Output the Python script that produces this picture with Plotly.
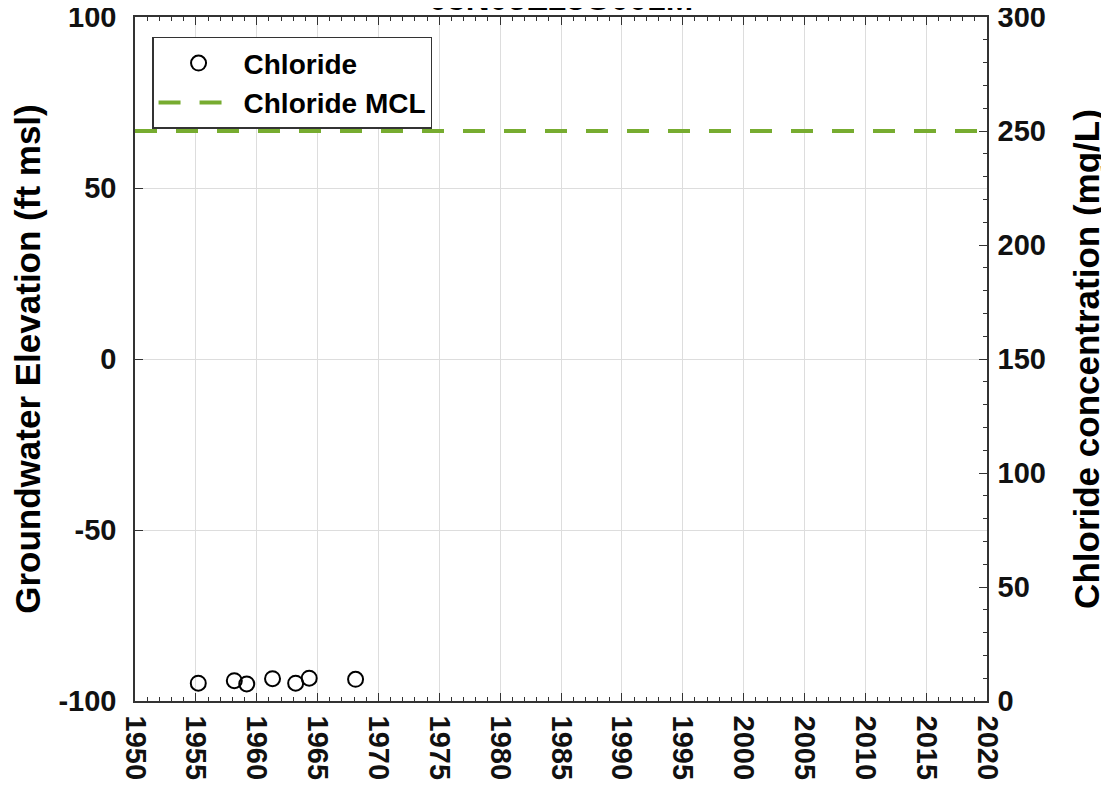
import plotly.graph_objects as go

title_text = "03N05E28G001M"
chloride_dates = ["1955-03-15", "1958-02-28", "1959-03-08", "1961-04-20",
                  "1963-03-15", "1964-04-25", "1968-02-15"]
chloride_values = [7.8, 8.9, 7.5, 9.8, 7.8, 10.0, 9.5]
mcl_dates = ["1950-01-01", "2020-01-01"]
mcl_values = [250, 250]
axis_dates = ["1950-01-01", "2020-01-01"]
elev_range = [-100, 100]
elev_ticks = [-100, -50, 0, 50, 100]
elev_ticklabels = ["-100", "-50", "0", "50", "100"]
chl_range = [0, 300]

FONT = "Liberation Sans, Arial, sans-serif"

fig = go.Figure()
# invisible trace to activate the left elevation axis
fig.add_trace(go.Scatter(
    x=axis_dates, y=elev_range, yaxis="y", mode="markers",
    marker=dict(opacity=0), showlegend=False, hoverinfo="skip",
))
fig.add_trace(go.Scatter(
    x=chloride_dates, y=chloride_values, yaxis="y2", mode="markers",
    name="Chloride",
    marker=dict(symbol="circle-open", size=15, color="black", line=dict(width=2, color="black")),
))
fig.add_trace(go.Scatter(
    x=mcl_dates, y=mcl_values, yaxis="y2", mode="lines",
    name="Chloride MCL",
    line=dict(color="#77AC30", width=4, dash="22px,19px"),
))

tickfont = dict(family=FONT, size=29, color="#111111", weight="bold")
titlefont = dict(family=FONT, size=35, color="black", weight="bold")
fig.update_layout(
    width=1109, height=788,
    margin=dict(l=127, r=130, t=9, b=95, autoexpand=False),
    paper_bgcolor="white", plot_bgcolor="white",
    font=dict(family=FONT, color="black"),
    showlegend=True,
    legend=dict(x=0.02, y=0.971, xanchor="left", yanchor="top",
                bgcolor="white", bordercolor="#333333", borderwidth=1.5,
                font=dict(family=FONT, size=28, color="black", weight="bold"),
                itemwidth=80, tracegroupgap=0),
    annotations=[dict(text=title_text, xref="paper", yref="paper", x=0.5, y=0.9975,
                      xanchor="center", yanchor="bottom", showarrow=False,
                      font=dict(family=FONT, size=33, color="black", weight="bold"))],
    xaxis=dict(
        type="date", range=axis_dates, automargin=False,
        tick0="1950-01-01", dtick="M60", tickformat="%Y", tickangle=90,
        ticks="inside", ticklen=8, tickcolor="#333333", tickwidth=1.2,
        ticklabelstandoff=7, ticklabeloverflow="allow",
        showline=True, linecolor="#333333", linewidth=1.5, mirror="ticks",
        showgrid=True, gridcolor="#DDDDDD", gridwidth=1,
        tickfont=tickfont, zeroline=False,
        minor=dict(dtick="M12", tick0="1950-01-01", ticks="inside", ticklen=4,
                   tickcolor="#333333", showgrid=False),
    ),
    yaxis=dict(
        range=elev_range, tickmode="array", tickvals=elev_ticks, ticktext=elev_ticklabels,
        automargin=False, ticks="inside", ticklen=8, tickcolor="#333333",
        ticklabelstandoff=11, ticklabeloverflow="allow",
        showline=True, linecolor="#333333", linewidth=1.5, mirror=True,
        showgrid=True, gridcolor="#DDDDDD", gridwidth=1, zeroline=False,
        tickfont=tickfont,
        title=dict(text="Groundwater Elevation (ft msl)", font=titlefont, standoff=12),
    ),
    yaxis2=dict(
        range=chl_range, dtick=50, tick0=0, overlaying="y", side="right", automargin=False,
        ticks="inside", ticklen=8, tickcolor="#333333", ticklabelstandoff=3,
        ticklabeloverflow="allow",
        showline=True, linecolor="#333333", linewidth=1.5,
        showgrid=False, zeroline=False, tickfont=tickfont,
        minor=dict(dtick=10, ticks="inside", ticklen=4, tickcolor="#333333", showgrid=False),
        title=dict(text="Chloride concentration (mg/L)", font=titlefont, standoff=30),
    ),
)

fig.write_html("out.html")
